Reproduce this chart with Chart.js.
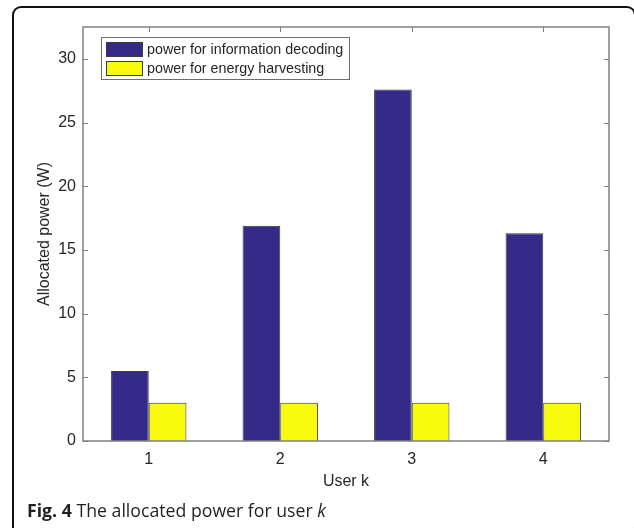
<!DOCTYPE html>
<html>
<head>
<meta charset="utf-8">
<script src="https://cdn.jsdelivr.net/npm/chart.js@4"></script>
<style>
  body { margin: 0; background: #fff; }
  #wrap { position: relative; width: 634px; height: 528px; overflow: hidden; }
  #frame { position: absolute; left: 12px; top: 6px; width: 620px; height: 526px;
           border: 2px solid #111; border-radius: 9px; }
  #box { position: absolute; left: 0; top: 0; width: 634px; height: 500px; }
  #caption { position: absolute; left: 27px; top: 498px; font-family: "Open Sans", sans-serif;
             font-size: 17.7px; color: #231f20; white-space: nowrap; }
</style>
</head>
<body>
<div id="wrap">
  <div id="frame"></div>
  <div id="box"><canvas id="myChart" width="634" height="500"></canvas></div>
  <div id="caption"><b>Fig. 4</b> The allocated power for user <i>k</i></div>
</div>
<script>
var users = ["1", "2", "3", "4"];
var infoPower = [5.5, 16.9, 27.6, 16.3];
var energyPower = [3, 3, 3, 3];
var yTicks = [0, 5, 10, 15, 20, 25, 30];
var seriesNames = ["power for information decoding", "power for energy harvesting"];

var axisColor = "#808080";
var textColor = "#262626";
var fontFam = "'Liberation Sans', Arial, sans-serif";

// box around the plot, MATLAB style ticks pointing inwards, legend inside
var matlabBox = {
  id: "matlabBox",
  afterDatasetsDraw: function(chart) {
    var ctx = chart.ctx;
    var a = chart.chartArea;
    var x = chart.scales.x, y = chart.scales.y;
    ctx.save();
    ctx.strokeStyle = axisColor;
    ctx.lineWidth = 1.5;
    ctx.strokeRect(a.left, a.top, a.right - a.left, a.bottom - a.top);
    ctx.lineWidth = 1;
    ctx.beginPath();
    y.ticks.forEach(function(t) {
      var py = Math.round(y.getPixelForValue(t.value)) + 0.5;
      ctx.moveTo(a.left, py); ctx.lineTo(a.left + 5, py);
      ctx.moveTo(a.right, py); ctx.lineTo(a.right - 5, py);
    });
    users.forEach(function(u, i) {
      var px = Math.round(x.getPixelForValue(i)) + 0.5;
      ctx.moveTo(px, a.top); ctx.lineTo(px, a.top + 5);
      ctx.moveTo(px, a.bottom); ctx.lineTo(px, a.bottom - 5);
    });
    ctx.stroke();

    // legend
    var lx = a.left + 18, ly = a.top + 10, lw = 248, lh = 42;
    ctx.fillStyle = "#fff";
    ctx.fillRect(lx, ly, lw, lh);
    ctx.strokeStyle = "#6e6e6e";
    ctx.strokeRect(lx + 0.5, ly + 0.5, lw, lh);
    ctx.font = "14.3px " + fontFam;
    ctx.textBaseline = "middle";
    chart.data.datasets.forEach(function(ds, i) {
      var sy = ly + 5 + i * 19;
      ctx.fillStyle = ds.backgroundColor;
      ctx.fillRect(lx + 5, sy, 37, 15);
      ctx.strokeStyle = "#3a3a3a";
      ctx.strokeRect(lx + 5.5, sy + 0.5, 36, 14);
      ctx.fillStyle = textColor;
      ctx.fillText(ds.label, lx + 46, sy + 8);
    });
    ctx.restore();
  }
};

new Chart("myChart", {
  type: "bar",
  data: {
    labels: users,
    datasets: [{
      label: seriesNames[0],
      data: infoPower,
      backgroundColor: "#352a87",
      borderColor: "#3a3a3a",
      borderWidth: 1,
      barPercentage: 1,
      categoryPercentage: 0.573
    }, {
      label: seriesNames[1],
      data: energyPower,
      backgroundColor: "#f9fb0e",
      borderColor: "#3a3a3a",
      borderWidth: 1,
      barPercentage: 1,
      categoryPercentage: 0.573
    }]
  },
  options: {
    responsive: false,
    animation: false,
    layout: { padding: { left: 0, top: 27, right: 25, bottom: 0 } },
    plugins: { legend: { display: false }, tooltip: { enabled: false } },
    scales: {
      x: {
        grid: { display: false, drawTicks: false },
        border: { display: false },
        ticks: { color: textColor, padding: 9, font: { size: 16, family: fontFam } },
        title: { display: true, text: "User k", color: textColor, padding: { top: 0, bottom: 9 },
                 font: { size: 16, family: fontFam } },
        afterFit: function(s) { s.height = 59; }
      },
      y: {
        min: 0,
        max: 32.5,
        grid: { display: false, drawTicks: false },
        border: { display: false },
        afterBuildTicks: function(s) { s.ticks = yTicks.map(function(v) { return { value: v }; }); },
        ticks: { color: textColor, padding: 7, font: { size: 16, family: fontFam } },
        title: { display: true, text: "Allocated power (W)", color: textColor, padding: { top: 35, bottom: 0 },
                 font: { size: 16, family: fontFam } },
        afterFit: function(s) { s.width = 83; }
      }
    }
  },
  plugins: [matlabBox]
});
</script>
</body>
</html>
